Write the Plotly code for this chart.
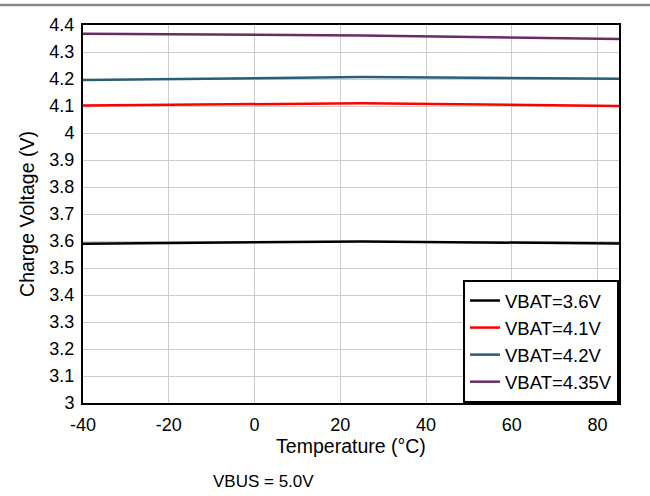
import plotly.graph_objects as go

temps = [-40, 25, 85]
v36 = [3.590, 3.598, 3.591]
v41 = [4.102, 4.110, 4.100]
v42 = [4.196, 4.207, 4.201]
v435 = [4.368, 4.361, 4.348]

names = ["VBAT=3.6V", "VBAT=4.1V", "VBAT=4.2V", "VBAT=4.35V"]
colors = ["#000000", "#ff0000", "#2b5d76", "#6b2c62"]
series = [v36, v41, v42, v435]
xticks = [-40, -20, 0, 20, 40, 60, 80]
xticklabels = ["-40", "-20", "0", "20", "40", "60", "80"]

fig = go.Figure()
for n, c, s in zip(names, colors, series):
    fig.add_trace(go.Scatter(x=temps, y=s, mode="lines", name=n,
                             line=dict(color=c, width=2.5)))

font = "Liberation Sans, Arial, sans-serif"
fig.update_layout(
    width=650, height=496,
    margin=dict(l=83, r=31, t=25, b=93),
    paper_bgcolor="white", plot_bgcolor="white",
    font=dict(family=font, size=18, color="black"),
    showlegend=True,
    legend=dict(x=1, y=0, xanchor="right", yanchor="bottom",
                bgcolor="white", bordercolor="black", borderwidth=2,
                font=dict(size=18.5), tracegroupgap=0),
    xaxis=dict(range=[-40, 85], tickvals=xticks, ticktext=xticklabels,
               showgrid=True, gridcolor="#cccccc", gridwidth=1,
               showline=True, linecolor="black", linewidth=2, mirror=True,
               zeroline=False, ticks="", ticklabelstandoff=4,
               title=dict(text="Temperature (°C)", standoff=6, font=dict(size=19.5))),
    yaxis=dict(range=[3, 4.4], dtick=0.1,
               showgrid=True, gridcolor="#cccccc", gridwidth=1,
               showline=True, linecolor="black", linewidth=2, mirror=True,
               zeroline=False, ticks="", ticklabelstandoff=3,
               title=dict(text="Charge Voltage (V)", standoff=10, font=dict(size=19.5))),
    shapes=[dict(type="line", xref="paper", yref="paper", x0=-0.3, x1=1.1,
                 ysizemode="pixel", yanchor=1, y0=20, y1=20,
                 line=dict(color="#888888", width=2.5))],
    annotations=[dict(text="VBUS = 5.0V", xref="paper", yref="paper",
                      x=0.336, y=0, xanchor="center", yanchor="middle", yshift=-78,
                      showarrow=False, font=dict(size=17))],
)
fig.write_html("out.html", config={"displayModeBar": False},
               post_script="document.body.style.margin='0px';")
